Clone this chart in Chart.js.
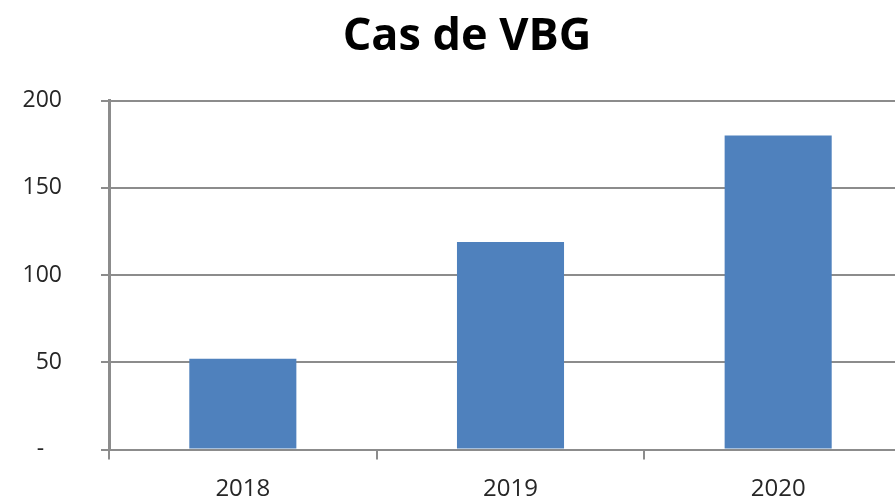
<!DOCTYPE html>
<html lang="fr">
<head>
  <meta charset="UTF-8">
  <title>Cas de VBG</title>
  <script src="https://cdn.jsdelivr.net/npm/chart.js"></script>
  <style>
    html, body { margin: 0; padding: 0; background: #fff; overflow: hidden; }
    canvas { display: block; }
  </style>
</head>
<body>
  <canvas id="vbgChart" width="912" height="504"></canvas>

  <script>
    const years = ['2018', '2019', '2020'];
    const cases = [52, 119, 180];
    const yTicks = [0, 50, 100, 150, 200];

    const gridGrey = '#8c8c8c';
    const textFont = "'Open Sans', 'DejaVu Sans', sans-serif";

    const ctx = document.getElementById('vbgChart').getContext('2d');
    const vbgChart = new Chart(ctx, {
      type: 'bar',
      data: {
        labels: years,
        datasets: [{
          label: 'Cas de VBG',
          data: cases,
          backgroundColor: '#4f81bd',
          borderWidth: 0,
          categoryPercentage: 1.0,
          barPercentage: 0.4
        }]
      },
      options: {
        responsive: false,
        animation: false,
        layout: { padding: { left: 22, right: 0, top: 0, bottom: 0 } },
        plugins: {
          legend: { display: false },
          tooltip: { enabled: false },
          title: {
            display: true,
            text: 'Cas de VBG',
            color: '#000',
            font: { family: textFont, size: 45, weight: 'bold', lineHeight: 1.2 },
            padding: { top: 10, bottom: 36.7 }
          }
        },
        scales: {
          x: {
            offset: true,
            afterFit: (scale) => { scale.height = 54.5; },
            grid: {
              offset: true,
              drawOnChartArea: false,
              drawTicks: true,
              tickLength: 10,
              color: gridGrey,
              lineWidth: 2
            },
            border: { display: true, color: gridGrey, width: 2 },
            ticks: {
              color: '#262626',
              padding: 15,
              font: { family: textFont, size: 24 }
            }
          },
          y: {
            min: yTicks[0],
            max: yTicks[yTicks.length - 1],
            afterBuildTicks: (scale) => {
              scale.ticks = yTicks.map(v => ({ value: v }));
            },
            afterFit: (scale) => { scale.width = 87; },
            grid: {
              color: gridGrey,
              lineWidth: 2,
              drawTicks: true,
              tickLength: 8
            },
            border: { display: true, color: gridGrey, width: 3 },
            ticks: {
              color: '#262626',
              padding: 39,
              font: { family: textFont, size: 23 },
              callback: (v) => v === 0 ? '-\u00a0\u00a0\u00a0' : v
            }
          }
        }
      }
    });
  </script>
</body>
</html>
